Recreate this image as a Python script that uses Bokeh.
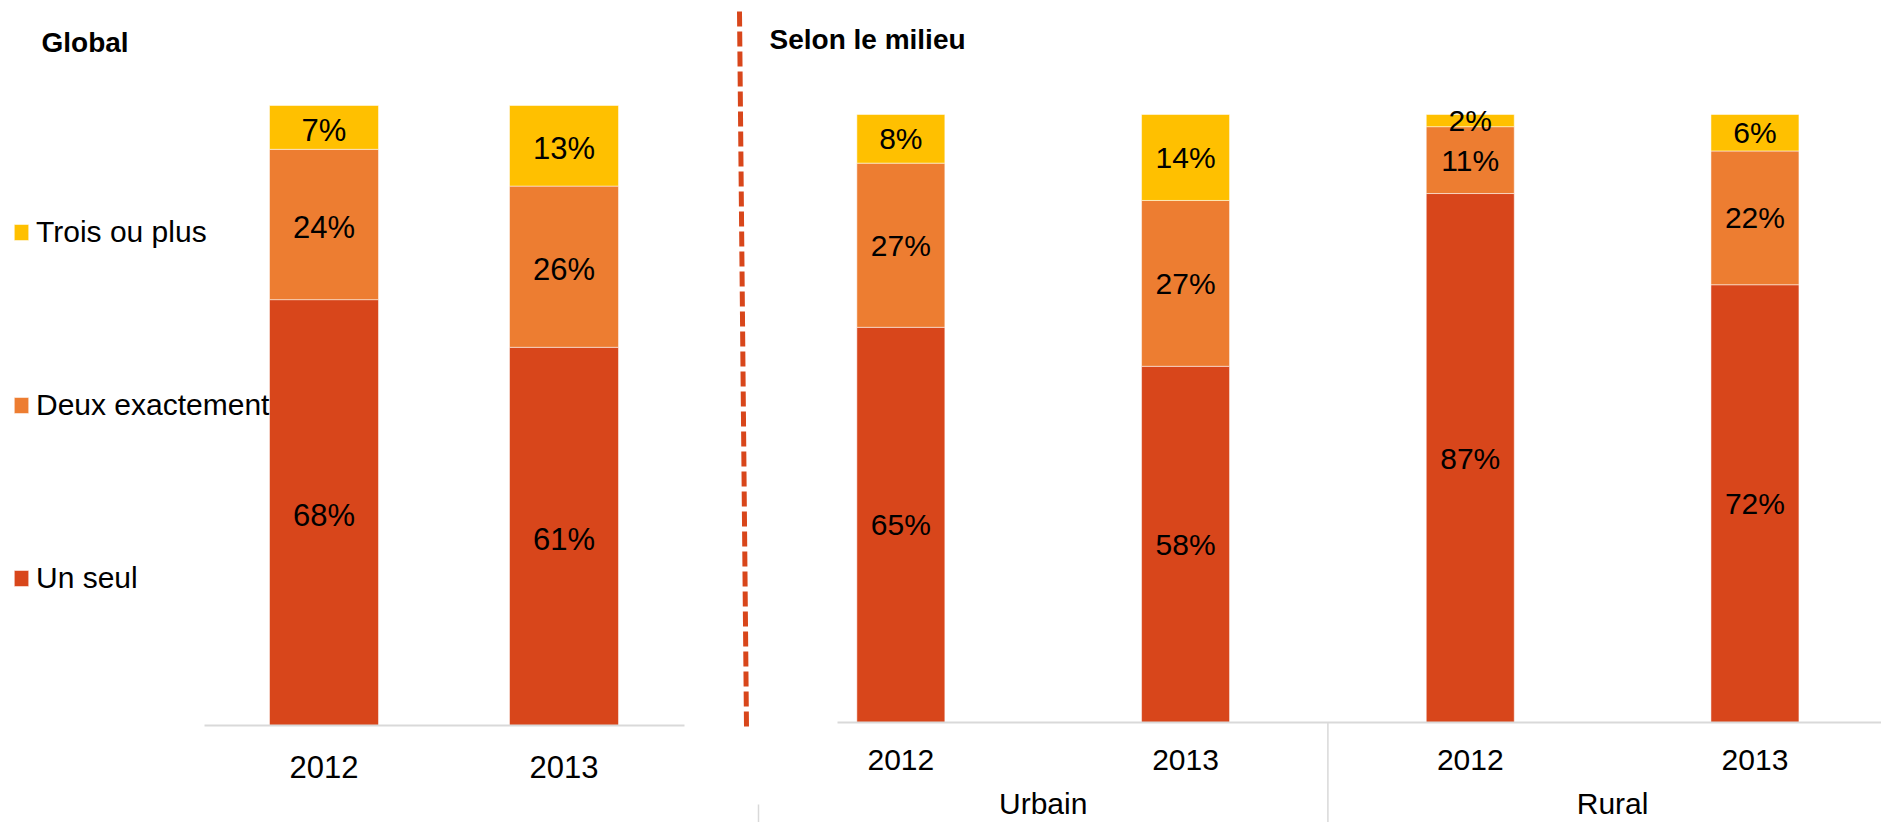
from bokeh.plotting import figure
from bokeh.models import (Range1d, ColumnDataSource, Legend, LegendItem, Label, FixedTicker)
from bokeh.layouts import row
from bokeh.core.properties import value
from bokeh.embed import file_html
from bokeh.resources import INLINE

# ---------------- data ----------------
series = ["Un seul", "Deux exactement", "Trois ou plus"]
colors = ["#D8461B", "#ED7D31", "#FFC000"]

global_years = ["2012", "2013"]
global_un_seul = [68, 61]
global_deux = [24, 26]
global_trois = [7, 13]

milieu_groups = ["Urbain", "Urbain", "Rural", "Rural"]
milieu_years = ["2012", "2013", "2012", "2013"]
milieu_un_seul = [65, 58, 87, 72]
milieu_deux = [27, 27, 11, 22]
milieu_trois = [8, 14, 2, 6]

title_left = "Global"
title_right = "Selon le milieu"

# ---------------- styling / geometry (page pixels) ----------------
FONT = "Liberation Sans"
GRAY = "#D9D9D9"
RED = colors[0]
TXT = "#000000"

PAGE_TOP, PAGE_BOTTOM = 0, 822
# left panel
L_FIG_LEFT, L_FIG_RIGHT = 0, 730
L_ORIGIN, L_STEP = 203.5, 240.0          # left edge of first category, px per category
L_BASE, L_TOP100 = 725, 105
L_PX = (L_BASE - L_TOP100) / 100.0
# right panel
R_FIG_LEFT, R_FIG_RIGHT = 730, 1881
R_ORIGIN, R_STEP = 758.0, 284.7
R_AXIS_START = 837
R_BASE, R_TOP100 = 722, 114
R_PX = (R_BASE - R_TOP100) / 100.0


def normalise(*cols):
    totals = [sum(v) for v in zip(*cols)]
    return [[100.0 * v / t for v, t in zip(col, totals)] for col in cols]


def mids(cols):
    out, base = [], [0.0] * len(cols[0])
    for col in cols:
        out.append([b + v / 2 for b, v in zip(base, col)])
        base = [b + v for b, v in zip(base, col)]
    return out


def make_fig(origin, step, base, px, fig_left, fig_right):
    p = figure(x_range=Range1d((fig_left - origin) / step, (fig_right - origin) / step),
               y_range=Range1d((base - PAGE_BOTTOM) / px, (base - PAGE_TOP) / px),
               frame_width=fig_right - fig_left, frame_height=PAGE_BOTTOM - PAGE_TOP,
               min_border_left=0, min_border_right=0, min_border_top=0, min_border_bottom=0,
               output_backend="svg", toolbar_location=None, y_axis_location=None)
    p.xgrid.visible = False
    p.ygrid.visible = False
    p.outline_line_color = None
    p.background_fill_color = "white"
    p.border_fill_color = "white"
    return p


def style_axis(ax, ticks, labels, bounds, size, standoff):
    ax.fixed_location = 0
    ax.ticker = FixedTicker(ticks=ticks, minor_ticks=[])
    ax.major_label_overrides = {t: l for t, l in zip(ticks, labels)}
    ax.bounds = bounds
    ax.axis_line_color = GRAY
    ax.axis_line_width = 2
    ax.major_tick_line_color = None
    ax.minor_tick_line_color = None
    ax.major_tick_out = 0
    ax.major_tick_in = 0
    ax.minor_tick_out = 0
    ax.minor_tick_in = 0
    ax.major_label_standoff = standoff
    ax.major_label_text_font = FONT
    ax.major_label_text_font_size = size
    ax.major_label_text_color = TXT


# ================= LEFT: Global =================
gl = normalise(global_un_seul, global_deux, global_trois)
xsL = [i + 0.5 for i in range(len(global_years))]
srcL = ColumnDataSource(dict(x=xsL, un=gl[0], deux=gl[1], trois=gl[2]))

pL = make_fig(L_ORIGIN, L_STEP, L_BASE, L_PX, L_FIG_LEFT, L_FIG_RIGHT)

rL = pL.vbar_stack(["un", "deux", "trois"], x="x", width=109 / L_STEP, color=colors,
                   line_color="white", line_alpha=0.5, line_width=1, source=srcL)

for vals, ys in zip([global_un_seul, global_deux, global_trois], mids(gl)):
    pL.text(x=xsL, y=ys, text=[f"{v}%" for v in vals], y_offset=3,
            text_align="center", text_baseline="middle", text_color=TXT,
            text_font=value(FONT), text_font_size=value("31px"))

style_axis(pL.xaxis[0], xsL, global_years, (0, len(global_years)), "31px", 30)

legend = Legend(items=[LegendItem(label=series[i], renderers=[rL[i]]) for i in reversed(range(3))],
                location=(12 - L_FIG_LEFT, PAGE_BOTTOM - 594.6), orientation="vertical",
                margin=0, padding=0, spacing=139, glyph_width=18, glyph_height=20,
                label_standoff=6, label_text_font=FONT, label_text_font_size="30px",
                label_text_color=TXT, border_line_color=None, background_fill_alpha=0)
pL.add_layout(legend, "center")

pL.add_layout(Label(x=41 - L_FIG_LEFT, y=PAGE_BOTTOM - 41.5, x_units="screen", y_units="screen",
                    text=title_left, text_font=FONT, text_font_style="bold",
                    text_font_size="28px", text_baseline="middle", text_align="left",
                    text_color=TXT))

# ================= RIGHT: Selon le milieu =================
ml = normalise(milieu_un_seul, milieu_deux, milieu_trois)
xsR = [i + 0.5 for i in range(len(milieu_years))]
srcR = ColumnDataSource(dict(x=xsR, un=ml[0], deux=ml[1], trois=ml[2]))

pR = make_fig(R_ORIGIN, R_STEP, R_BASE, R_PX, R_FIG_LEFT, R_FIG_RIGHT)

rR = pR.vbar_stack(["un", "deux", "trois"], x="x", width=88 / R_STEP, color=colors,
                   line_color="white", line_alpha=0.5, line_width=1, source=srcR)

for vals, ys in zip([milieu_un_seul, milieu_deux, milieu_trois], mids(ml)):
    pR.text(x=xsR, y=ys, text=[f"{v}%" for v in vals],
            text_align="center", text_baseline="middle", text_color=TXT,
            text_font=value(FONT), text_font_size=value("30px"))

style_axis(pR.xaxis[0], xsR, milieu_years,
           ((R_AXIS_START - R_ORIGIN) / R_STEP, (R_FIG_RIGHT - R_ORIGIN) / R_STEP), "30px", 27)

# group boundaries and centres derived from the group list
seps = [float(i) for i in range(1, len(milieu_groups)) if milieu_groups[i] != milieu_groups[i - 1]]
group_names = []
for g in milieu_groups:
    if g not in group_names:
        group_names.append(g)
group_centres = [sum(x for x, gg in zip(xsR, milieu_groups) if gg == g) /
                 sum(1 for gg in milieu_groups if gg == g) for g in group_names]

y_bottom = pR.y_range.start
pR.segment(x0=seps, x1=seps, y0=[0] * len(seps), y1=[y_bottom] * len(seps),
           line_color=GRAY, line_width=1.5)
# outer left boundary of the first group (only its lower end is visible)
pR.segment(x0=[0.0], x1=[0.0], y0=[(R_BASE - 804) / R_PX], y1=[y_bottom],
           line_color=GRAY, line_width=1.5)

for name, cx in zip(group_names, group_centres):
    pR.add_layout(Label(x=cx, y=0, y_offset=-(803 - R_BASE), text=name,
                        text_font=FONT, text_font_size="30px", text_color=TXT,
                        text_align="center", text_baseline="middle"))

# dashed divider between the two panels
pR.segment(x0=[(739 - R_ORIGIN) / R_STEP], y0=[(R_BASE - 11) / R_PX],
           x1=[(746 - R_ORIGIN) / R_STEP], y1=[(R_BASE - 727) / R_PX],
           line_color=RED, line_width=5, line_dash="15 5")

pR.add_layout(Label(x=769 - R_FIG_LEFT, y=PAGE_BOTTOM - 39.3, x_units="screen", y_units="screen",
                    text=title_right, text_font=FONT, text_font_style="bold",
                    text_font_size="28px", text_baseline="middle", text_align="left",
                    text_color=TXT))

layout = row(pL, pR, spacing=0)
open("out.html", "w").write(file_html(layout, INLINE))
